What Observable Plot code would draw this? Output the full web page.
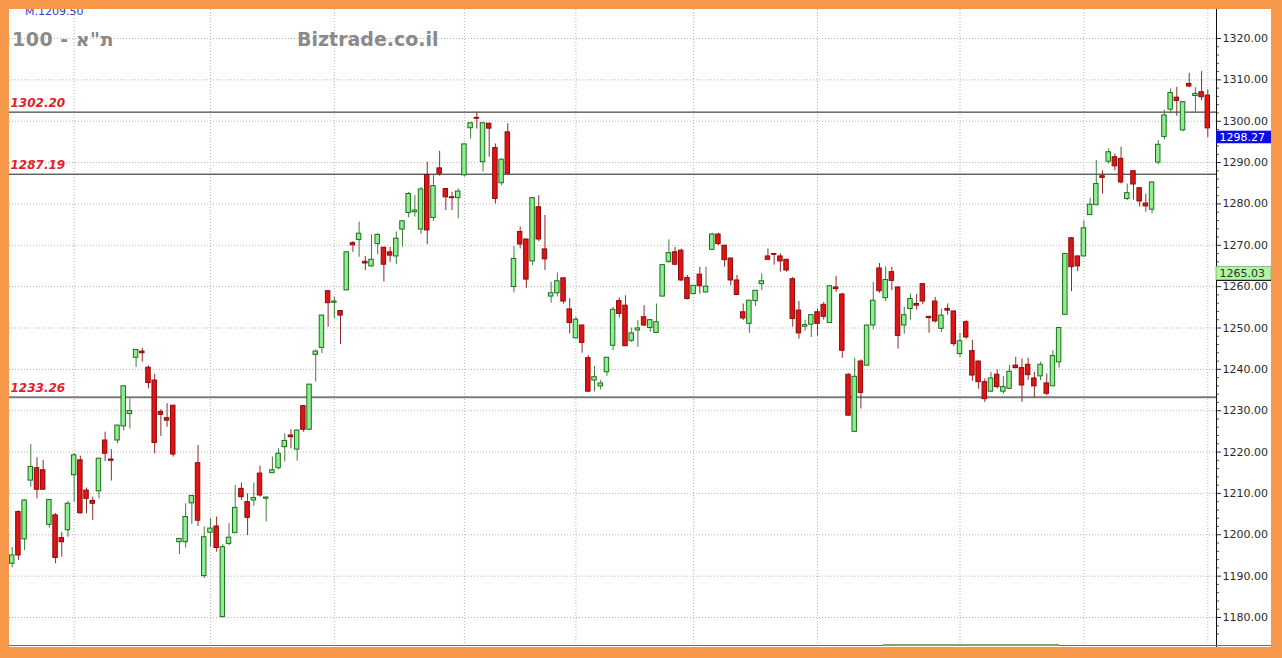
<!DOCTYPE html>
<html><head><meta charset="utf-8">
<script src="https://cdn.jsdelivr.net/npm/d3@7"></script>
<script src="https://cdn.jsdelivr.net/npm/@observablehq/plot@0.6"></script>
<style>
html,body{margin:0;padding:0;}
body{width:1282px;height:658px;background:#F8984A;position:relative;overflow:hidden;font-family:"DejaVu Sans",Verdana,sans-serif;}
#panel{position:absolute;left:9px;top:9px;width:1262px;height:638px;background:#fff;overflow:hidden;}
#chart{position:absolute;left:0;top:0;}
.title{position:absolute;font-weight:bold;color:#8a8a8a;font-size:19px;white-space:nowrap;}
</style></head><body>
<div id="panel">
  <div id="chart"></div>
  <div style="position:absolute;left:16px;top:-4px;font-size:11px;color:#3838c8;white-space:nowrap;">M.1209.50</div>
  <div class="title" style="left:3px;top:19px;direction:ltr;letter-spacing:0.5px;">100 - ת"א</div>
  <div class="title" style="left:288px;top:19px;">Biztrade.co.il</div>
  <div style="position:absolute;left:0;top:636px;width:1262px;height:1px;background:#6e6e6e;"></div>
  <div style="position:absolute;left:874px;top:635px;width:176px;height:2px;background:#7ea862;"></div>
</div>
<script>
// ---- data ----
const opens = [1193.0,1205.5,1198.9,1213.1,1216.1,1215.6,1202.4,1204.7,1199.2,1201.1,1214.4,1218.0,1210.7,1208.2,1210.5,1222.8,1218.2,1222.8,1226.2,1229.2,1242.8,1244.3,1240.4,1237.3,1229.7,1228.2,1231.2,1198.2,1198.2,1207.6,1217.3,1190.0,1200.5,1202.0,1180.1,1197.8,1200.4,1211.1,1207.9,1208.3,1214.8,1208.7,1214.9,1216.1,1221.2,1224.0,1220.6,1231.1,1225.4,1243.5,1245.2,1258.9,1256.1,1254.1,1259.1,1270.5,1271.3,1266.0,1264.9,1270.3,1269.4,1268.3,1267.3,1273.8,1277.8,1278.0,1273.8,1287.0,1276.6,1288.6,1283.6,1281.6,1281.4,1286.9,1298.3,1300.8,1290.1,1299.4,1293.5,1285.0,1297.3,1259.9,1273.2,1271.4,1266.1,1279.2,1269.0,1257.6,1258.4,1262.0,1254.5,1247.5,1250.6,1242.7,1237.3,1235.9,1239.3,1245.7,1256.5,1255.4,1246.9,1249.4,1252.6,1250.0,1248.8,1257.6,1266.0,1268.3,1268.7,1262.1,1258.2,1262.9,1258.6,1268.9,1272.6,1269.9,1266.8,1261.5,1253.8,1251.0,1256.5,1260.6,1267.3,1267.9,1267.3,1266.5,1261.8,1254.2,1250.3,1250.8,1253.8,1255.6,1251.2,1259.8,1258.1,1238.7,1224.9,1241.9,1240.9,1250.6,1264.4,1257.2,1263.5,1259.8,1250.6,1254.6,1255.8,1260.6,1252.7,1256.4,1249.8,1254.6,1254.0,1243.7,1251.4,1244.4,1241.9,1236.9,1234.6,1238.7,1234.6,1235.3,1240.9,1240.3,1241.1,1237.8,1238.3,1236.6,1235.9,1241.7,1253.2,1271.7,1267.3,1267.3,1277.3,1279.7,1286.7,1290.2,1291.3,1290.9,1281.2,1287.9,1283.8,1280.1,1278.6,1290.0,1296.2,1302.8,1305.7,1297.8,1309.0,1306.1,1307.0,1306.2];
const highs = [1196.9,1205.8,1208.5,1221.8,1218.6,1218.0,1208.5,1205.1,1200.6,1208.1,1219.6,1219.0,1211.3,1209.1,1218.5,1224.8,1220.6,1226.5,1236.0,1232.9,1244.8,1245.0,1240.8,1238.8,1230.3,1231.7,1231.3,1199.1,1207.5,1209.5,1221.6,1201.9,1203.9,1204.3,1197.6,1202.7,1211.9,1212.5,1209.9,1212.5,1216.6,1209.2,1218.8,1220.8,1224.4,1225.4,1225.3,1231.2,1236.4,1244.7,1253.1,1259.0,1257.5,1254.2,1268.4,1270.9,1275.6,1267.3,1272.5,1272.8,1269.5,1269.5,1273.2,1275.9,1282.8,1282.0,1284.0,1290.1,1287.0,1292.7,1283.7,1282.8,1283.6,1294.5,1299.6,1302.2,1299.6,1299.5,1294.5,1290.9,1299.4,1269.7,1274.4,1271.5,1281.5,1282.0,1277.2,1261.1,1263.3,1262.1,1257.1,1252.6,1250.7,1243.3,1240.7,1237.4,1242.9,1255.0,1257.3,1257.8,1250.0,1251.8,1255.4,1252.0,1255.8,1265.3,1271.3,1269.5,1269.1,1262.7,1260.3,1264.7,1264.7,1272.9,1272.9,1270.0,1266.9,1262.7,1255.8,1256.7,1259.1,1263.1,1269.1,1268.0,1267.9,1266.6,1262.2,1256.4,1251.9,1253.2,1254.6,1256.2,1260.2,1262.5,1258.4,1238.9,1242.7,1242.3,1250.7,1261.0,1265.6,1264.8,1264.7,1259.9,1255.0,1258.2,1258.1,1260.7,1252.8,1257.4,1254.6,1255.8,1254.1,1248.7,1251.8,1247.0,1242.0,1237.7,1239.3,1239.9,1238.3,1240.9,1242.9,1242.5,1242.7,1239.3,1241.7,1238.9,1244.5,1250.1,1268.0,1271.8,1267.4,1275.9,1281.4,1290.5,1288.0,1293.3,1292.1,1293.7,1284.8,1288.0,1283.9,1282.4,1285.3,1295.3,1302.6,1307.8,1308.2,1304.7,1311.6,1308.1,1312.0,1307.6];
const lows = [1192.0,1193.8,1196.2,1211.5,1208.7,1210.8,1201.6,1193.0,1194.6,1199.4,1207.9,1205.0,1205.1,1203.5,1208.7,1217.7,1213.0,1222.0,1225.1,1225.6,1240.4,1241.7,1235.3,1219.6,1223.8,1226.0,1218.8,1195.2,1196.8,1202.5,1202.0,1189.4,1197.0,1195.8,1179.9,1197.3,1200.4,1208.3,1199.8,1206.9,1209.1,1203.1,1214.9,1215.7,1217.6,1220.8,1217.8,1224.8,1225.3,1236.9,1243.8,1250.2,1252.2,1246.0,1259.0,1268.3,1267.1,1263.9,1264.7,1267.7,1261.1,1265.9,1265.3,1269.5,1276.6,1276.8,1272.6,1270.2,1275.8,1286.7,1278.4,1278.4,1276.4,1286.5,1295.7,1298.1,1287.7,1291.3,1280.0,1284.4,1287.2,1258.5,1269.1,1259.6,1265.1,1270.9,1263.9,1256.0,1257.5,1255.8,1248.6,1247.4,1243.9,1234.5,1234.5,1235.0,1238.3,1244.5,1252.4,1245.5,1246.5,1245.3,1250.3,1249.0,1248.7,1257.5,1265.6,1265.1,1261.2,1256.8,1258.1,1258.2,1258.5,1268.7,1269.9,1264.7,1260.2,1257.8,1251.8,1248.7,1255.2,1259.0,1266.3,1265.2,1263.5,1263.5,1250.2,1247.3,1249.2,1247.7,1248.0,1251.9,1251.1,1258.6,1242.7,1228.7,1224.8,1230.4,1240.8,1249.5,1258.4,1256.4,1259.0,1244.9,1248.5,1251.9,1254.3,1255.6,1248.7,1251.2,1248.9,1253.1,1245.5,1242.9,1247.3,1237.1,1235.2,1232.0,1234.5,1235.3,1234.0,1235.1,1240.1,1232.0,1237.3,1233.0,1237.3,1233.6,1235.8,1240.3,1253.1,1258.8,1263.6,1267.2,1277.2,1279.6,1282.4,1289.6,1288.0,1284.8,1280.8,1280.9,1279.2,1278.0,1277.6,1289.5,1295.5,1301.8,1301.2,1297.4,1308.1,1302.2,1304.9,1296.0];
const closes = [1195.0,1195.0,1208.3,1216.4,1210.9,1210.9,1208.4,1194.4,1198.2,1207.5,1219.2,1205.2,1208.7,1207.5,1218.4,1219.6,1217.9,1226.4,1235.9,1229.9,1244.7,1243.9,1236.7,1222.2,1229.0,1227.6,1219.4,1199.0,1204.3,1209.4,1203.4,1199.4,1201.5,1196.8,1197.0,1199.3,1206.5,1209.1,1204.1,1208.9,1209.5,1209.0,1215.6,1219.6,1222.7,1223.6,1225.2,1225.4,1236.3,1244.3,1253.0,1256.0,1256.4,1253.0,1268.3,1270.0,1272.8,1265.6,1266.5,1272.5,1265.3,1267.5,1271.6,1275.8,1282.4,1278.4,1283.5,1273.6,1284.3,1287.3,1281.6,1281.4,1283.0,1294.4,1299.5,1300.6,1299.5,1298.2,1281.2,1290.7,1287.3,1266.7,1270.2,1261.7,1281.4,1271.4,1266.6,1258.4,1261.3,1256.4,1251.2,1252.0,1246.4,1234.6,1238.1,1236.6,1242.8,1254.4,1253.4,1245.6,1248.7,1249.9,1250.6,1251.9,1251.4,1265.2,1268.1,1265.3,1261.5,1257.0,1260.2,1260.1,1260.0,1272.6,1270.3,1266.4,1261.5,1258.0,1252.3,1256.6,1259.0,1261.3,1266.5,1267.7,1266.1,1263.9,1252.2,1248.7,1250.7,1253.1,1251.0,1252.7,1260.1,1259.4,1244.5,1228.8,1238.2,1234.3,1250.6,1256.6,1258.9,1261.6,1261.4,1248.1,1253.1,1257.0,1255.4,1256.4,1252.4,1251.6,1253.0,1254.2,1246.1,1246.8,1247.7,1238.5,1236.9,1232.8,1237.8,1235.7,1235.7,1239.4,1240.3,1236.1,1238.6,1235.9,1241.1,1234.1,1243.2,1250.0,1267.9,1264.7,1264.9,1274.1,1279.8,1284.8,1286.3,1292.5,1289.1,1285.2,1282.6,1284.7,1280.6,1279.4,1285.2,1294.3,1301.4,1306.8,1304.9,1304.6,1308.4,1306.6,1305.8,1298.27];
const levels = [1302.20, 1287.19, 1233.26];
const monthStarts = [10, 32, 52, 73, 91, 110, 130, 153, 173, 193];  // candle index of vertical grid lines
const priceTicks = d3.range(1180, 1321, 10);
const minorTicks = d3.range(1176, 1321, 2).filter(v => v % 10 !== 0);
const lastPrice = 1298.27;
const maPrice = 1265.03;

// ---- build table ----
const candles = opens.map((o, i) => ({i, open: o, high: highs[i], low: lows[i], close: closes[i], up: closes[i] >= o}));

// ---- layout (pixels) ----
const W = 1262, H = 638;
const xRange = [2.7, 1198.3];           // centre of first / last candle
const yRange = [608, 29];               // 1180 -> 1320
const plotRight = 1207;                 // right axis line
const pxPerIdx = (xRange[1] - xRange[0]) / (candles.length - 1);
const pxPerUnit = (yRange[0] - yRange[1]) / 140;
const axisIdx = (plotRight - xRange[0]) / pxPerIdx;
const edgeIdx = (W - xRange[0]) / pxPerIdx;
const leftIdx = (1 - xRange[0]) / pxPerIdx;
const half = 0.36;

const GREEN_FILL = "#8fee8f", GREEN_LINE = "#1c6e1c", GREEN_WICK = "#3d7f3d";
const RED_FILL = "#e01414", RED_LINE = "#8e0a0a", RED_WICK = "#8e2a2a";
const grid = "#b5b5b5";

const chart = Plot.plot({
  width: W, height: H,
  marginLeft: 0, marginRight: W - plotRight, marginTop: 0, marginBottom: 0,
  x: {type: "linear", domain: [0, candles.length - 1], range: xRange, axis: null},
  y: {type: "linear", domain: [1180, 1320], range: yRange, axis: null},
  color: {type: "identity"},
  style: {fontFamily: "DejaVu Sans, Verdana, sans-serif", fontSize: "11px", background: "transparent", overflow: "visible"},
  marks: [
    Plot.ruleY(priceTicks, {stroke: grid, strokeDasharray: "1,2"}),
    Plot.ruleX(monthStarts, {stroke: grid, strokeDasharray: "1,2"}),
    Plot.ruleY([levels[0], levels[1]], {stroke: "#1a1a1a", strokeWidth: 1}),
    Plot.ruleY([levels[2]], {stroke: "#7a7a7a", strokeWidth: 2}),
    Plot.text(levels, {x: leftIdx, y: d => d, text: d => d.toFixed(2), dy: -9, textAnchor: "start",
      fill: "#e3202a", fontWeight: "bold", fontStyle: "italic", fontSize: 12}),
    Plot.ruleX(candles, {x: "i", y1: "low", y2: "high", stroke: d => d.up ? GREEN_WICK : RED_WICK, strokeWidth: 1}),
    Plot.rect(candles, {x1: d => d.i - half, x2: d => d.i + half, y1: "open", y2: "close",
      fill: d => d.up ? GREEN_FILL : RED_FILL, stroke: d => d.up ? GREEN_LINE : RED_LINE, strokeWidth: 1}),
    // right axis
    Plot.ruleX([axisIdx], {stroke: "#111", strokeWidth: 1}),
    Plot.axisY(minorTicks, {anchor: "right", tickSize: 2, tickFormat: () => "", stroke: "#555"}),
    Plot.axisY(priceTicks, {anchor: "right", tickSize: 4, tickPadding: 2, tickFormat: d => d.toFixed(2), fontSize: 11, color: "#2a2a2a"}),
    // price boxes
    Plot.rect([lastPrice], {x1: axisIdx, x2: edgeIdx, y1: d => d, y2: d => d - 12.6 / pxPerUnit, dy: 2.8, fill: "#0c0ce6"}),
    Plot.text([lastPrice], {x: axisIdx, y: d => d, text: d => d.toFixed(2), dx: 3, dy: 9, textAnchor: "start", fill: "white", fontSize: 11}),
    Plot.rect([maPrice], {x1: axisIdx, x2: edgeIdx, y1: d => d, y2: d => d - 13.3 / pxPerUnit, dy: 1.3, fill: "#b4f4a6", stroke: "#6fb060", strokeWidth: 0.8}),
    Plot.ruleY([maPrice], {x1: axisIdx, x2: edgeIdx, dy: 14.6, stroke: "#111", strokeWidth: 1}),
    Plot.text([maPrice], {x: axisIdx, y: d => d, text: d => d.toFixed(2), dx: 3, dy: 8, textAnchor: "start", fill: "#1d3a1d", fontSize: 11})
  ]
});
document.getElementById("chart").appendChild(chart);
</script>
</body></html>
